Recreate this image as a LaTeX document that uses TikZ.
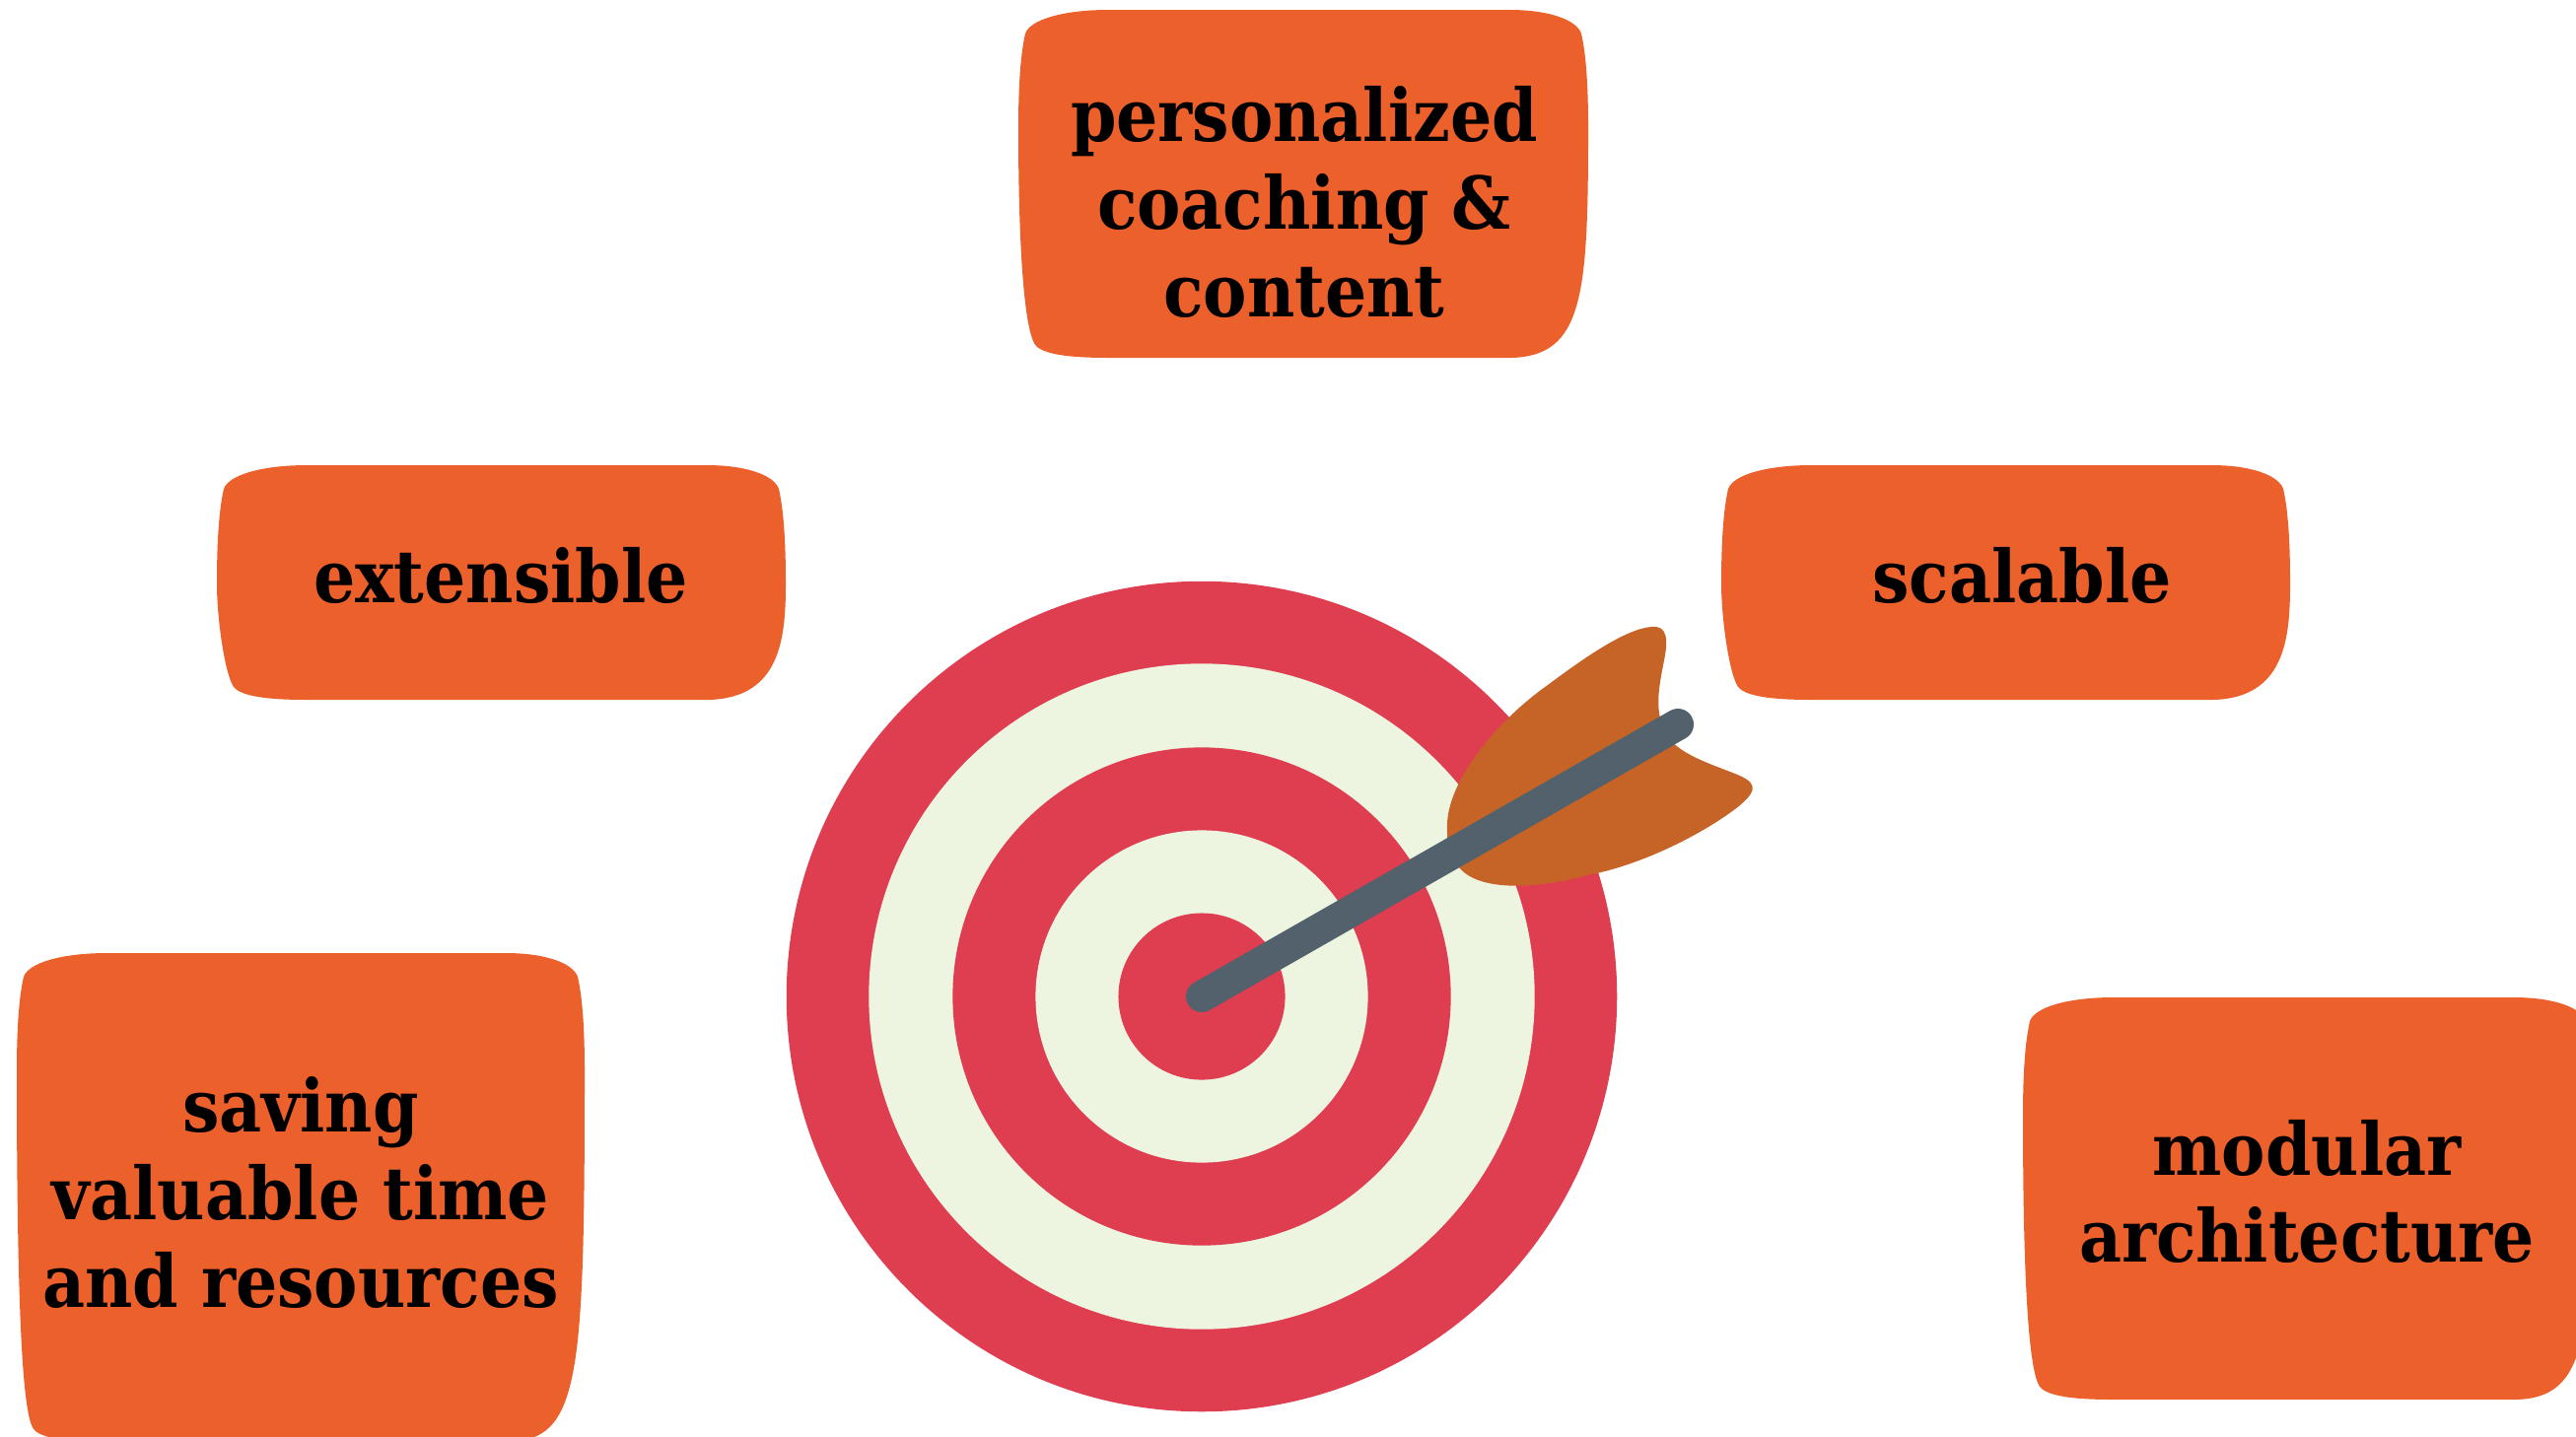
\documentclass[tikz,border=0pt]{standalone}
\usepackage{fontspec}
\setmainfont{DejaVu Serif}[FakeStretch=0.9]
\usepackage{xcolor}

\definecolor{patchorange}{HTML}{EC602B}
\definecolor{targetred}{HTML}{DF3D50}
\definecolor{targetcream}{HTML}{EDF4E0}
\definecolor{featherbrown}{HTML}{C66428}
\definecolor{shaftgrey}{HTML}{52616C}

\tikzset{
    ring/.style={circle,inner sep=0pt,outer sep=0pt},
    goal/.style={align=center,inner sep=0pt,text=black,font=\fontsize{21}{25.2}\selectfont\bfseries}
}

% left, top, right, bottom
\newcommand{\patch}[4]{
    \fill[patchorange] ({#1+92},#2) -- ({#3-80},#2)
        .. controls ({#3-40},#2) and ({#3-12},{#2+10}) .. ({#3-7},{#2+24})
        .. controls ({#3-1},{#2+50}) and (#3,{#2+90}) .. (#3,{#2+120})
        .. controls (#3,{#4-63}) and ({#3-5},{#4-2}) .. ({#3-78},#4)
        -- ({#1+92},#4)
        .. controls ({#1+60},#4) and ({#1+28},{#4-2}) .. ({#1+18},{#4-12})
        .. controls ({#1+9},{#4-21}) and (#1,{#4-80}) .. (#1,{#2+120})
        .. controls (#1,{#2+90}) and ({#1+1},{#2+50}) .. ({#1+7},{#2+24})
        .. controls ({#1+12},{#2+10}) and ({#1+45},#2) .. ({#1+92},#2) -- cycle;
}

\begin{document}
\begin{tikzpicture}[x=0.01cm,y=-0.01cm]
    \useasboundingbox (0,0) rectangle (2613,1457);

    \patch{1033}{10}{1611}{363}
    \patch{220}{472}{797}{710}
    \patch{1746}{472}{2323}{710}
    \patch{17}{967}{593}{1463}
    \patch{2052}{1012}{2630}{1420}

    \node (coaching) at (1323,205) [goal] {personalized\\coaching \&\\content};
    \node (extensible) at (508,584) [goal] {extensible};
    \node (scalable) at (2051,584) [goal] {scalable};
    \node (saving) at (305,1210) [goal] {saving\\valuable time\\and resources};
    \node (modular) at (2340,1209) [goal] {modular\\architecture};

    \node (r) at (1219,1011) [ring,fill=targetred,minimum size=8.42cm] {};
    \node (s) at (r) [ring,fill=targetcream,minimum size=6.75cm] {};
    \node (t) at (r) [ring,fill=targetred,minimum size=5.05cm] {};
    \node (u) at (r) [ring,fill=targetcream,minimum size=3.37cm] {};
    \node (v) at (r) [ring,fill=targetred,minimum size=1.69cm] {};

    \fill[featherbrown] (1468,835) .. controls (1470,790) and (1520,730) .. (1570,695)
        .. controls (1610,665) and (1650,638) .. (1675,636)
        .. controls (1692,634) and (1692,650) .. (1688,670)
        .. controls (1682,700) and (1678,722) .. (1690,745)
        .. controls (1702,765) and (1735,775) .. (1760,785)
        .. controls (1780,793) and (1785,800) .. (1765,817)
        .. controls (1730,845) and (1665,878) .. (1610,888)
        .. controls (1560,902) and (1500,905) .. (1480,880)
        .. controls (1472,870) and (1467,860) .. (1468,835) -- cycle;

    \coordinate (tail) at (1702,735);
    \draw[shaftgrey,line width=0.32cm,line cap=round] (r.center) -- (tail);
\end{tikzpicture}
\end{document}
